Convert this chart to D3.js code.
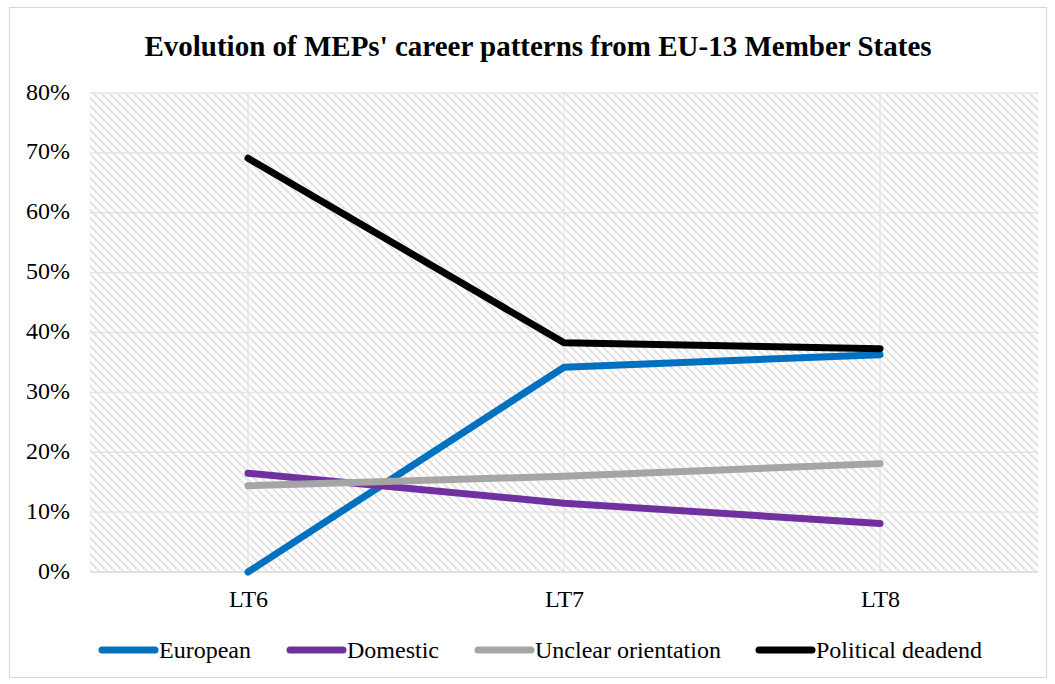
<!DOCTYPE html>
<html>
<head>
<meta charset="utf-8">
<script src="https://cdnjs.cloudflare.com/ajax/libs/d3/7.8.5/d3.min.js"></script>
<style>
  body { margin: 0; background: #fff; }
  svg text { font-family: "Liberation Serif", "Times New Roman", serif; }
</style>
</head>
<body>
<div id="chart"></div>
<script>
// data
var categories = ["LT6", "LT7", "LT8"];
var seriesNames = ["European", "Domestic", "Unclear orientation", "Political deadend"];
var european = [0, 0.342, 0.363];
var domestic = [0.165, 0.115, 0.081];
var unclear = [0.144, 0.160, 0.181];
var deadend = [0.691, 0.383, 0.373];
var yTicks = [0, 0.1, 0.2, 0.3, 0.4, 0.5, 0.6, 0.7, 0.8];

var colors = ["#0070C0", "#7030A0", "#A5A5A5", "#000000"];
var series = [european, domestic, unclear, deadend];

var w = 1055, h = 684;
var plotLeft = 90, plotRight = 1038, plotTop = 93, plotBottom = 572;

var svg = d3.select("#chart").append("svg")
  .attr("width", w)
  .attr("height", h);

// hatch pattern for plot area
var defs = svg.append("defs");
var pat = defs.append("pattern")
  .attr("id", "hatch")
  .attr("patternUnits", "userSpaceOnUse")
  .attr("width", 8)
  .attr("height", 8);
pat.append("rect").attr("width", 8).attr("height", 8).attr("fill", "#fff");
pat.append("path")
  .attr("d", "M-2,-2 L10,10 M-2,6 L2,10 M6,-2 L10,2")
  .attr("stroke", "#d6d6d6")
  .attr("stroke-width", 2.2)
  .attr("stroke-dasharray", "1.5,1");

// outer border
svg.append("rect")
  .attr("x", 9.5).attr("y", 7.5)
  .attr("width", 1037).attr("height", 670)
  .attr("fill", "#fff")
  .attr("stroke", "#d9d9d9");

var x = d3.scalePoint()
  .domain(categories)
  .range([plotLeft, plotRight])
  .padding(0.5);
var y = d3.scaleLinear()
  .domain([0, 0.8])
  .range([plotBottom, plotTop]);

svg.append("rect")
  .attr("x", plotLeft).attr("y", plotTop)
  .attr("width", plotRight - plotLeft).attr("height", plotBottom - plotTop)
  .attr("fill", "url(#hatch)");

// gridlines
svg.append("g").selectAll("line")
  .data(yTicks.slice(1))
  .enter().append("line")
  .attr("x1", plotLeft).attr("x2", plotRight)
  .attr("y1", function (d) { return y(d); })
  .attr("y2", function (d) { return y(d); })
  .attr("stroke", "#e4e4e4")
  .attr("stroke-width", 1.3);
svg.append("g").selectAll("line")
  .data(categories)
  .enter().append("line")
  .attr("x1", function (d) { return x(d); })
  .attr("x2", function (d) { return x(d); })
  .attr("y1", plotTop).attr("y2", plotBottom)
  .attr("stroke", "#e4e4e4")
  .attr("stroke-width", 1.3);

// x axis line
svg.append("line")
  .attr("x1", plotLeft).attr("x2", plotRight)
  .attr("y1", plotBottom).attr("y2", plotBottom)
  .attr("stroke", "#d9d9d9")
  .attr("stroke-width", 1.3);

// y axis labels
var yAxis = svg.append("g")
  .attr("transform", "translate(" + (plotLeft - 20) + ",0)")
  .call(d3.axisLeft(y).tickValues(yTicks).tickFormat(d3.format(".0%")).tickSize(0).tickPadding(0));
yAxis.select(".domain").remove();
yAxis.attr("font-family", null);
yAxis.selectAll("text")
  .attr("font-size", 24)
  .attr("dy", "0.25em")
  .attr("fill", "#000");

// x axis labels
var xAxis = svg.append("g")
  .attr("transform", "translate(0," + plotBottom + ")")
  .call(d3.axisBottom(x).tickSize(0).tickPadding(18));
xAxis.select(".domain").remove();
xAxis.attr("font-family", null);
xAxis.selectAll("text")
  .attr("font-size", 24)
  .attr("fill", "#000");

// lines
var line = d3.line()
  .x(function (d, i) { return x(categories[i]); })
  .y(function (d) { return y(d); });

svg.append("g").selectAll("path")
  .data(series)
  .enter().append("path")
  .attr("d", function (d) { return line(d); })
  .attr("fill", "none")
  .attr("stroke", function (d, i) { return colors[i]; })
  .attr("stroke-width", 7)
  .attr("stroke-linecap", "round")
  .attr("stroke-linejoin", "round");

// title
svg.append("text")
  .attr("x", 538)
  .attr("y", 56)
  .attr("text-anchor", "middle")
  .attr("font-size", 29)
  .attr("font-weight", "bold")
  .text("Evolution of MEPs' career patterns from EU-13 Member States");

// legend
var legendX = [102, 290, 478, 759];
var lg = svg.append("g").selectAll("g")
  .data(seriesNames)
  .enter().append("g")
  .attr("transform", function (d, i) { return "translate(" + legendX[i] + ",650)"; });
lg.append("line")
  .attr("x1", 0).attr("x2", 53)
  .attr("y1", 0).attr("y2", 0)
  .attr("stroke", function (d, i) { return colors[i]; })
  .attr("stroke-width", 7)
  .attr("stroke-linecap", "round");
lg.append("text")
  .attr("x", 57)
  .attr("y", 8)
  .attr("font-size", 24)
  .text(function (d) { return d; });
</script>
</body>
</html>
